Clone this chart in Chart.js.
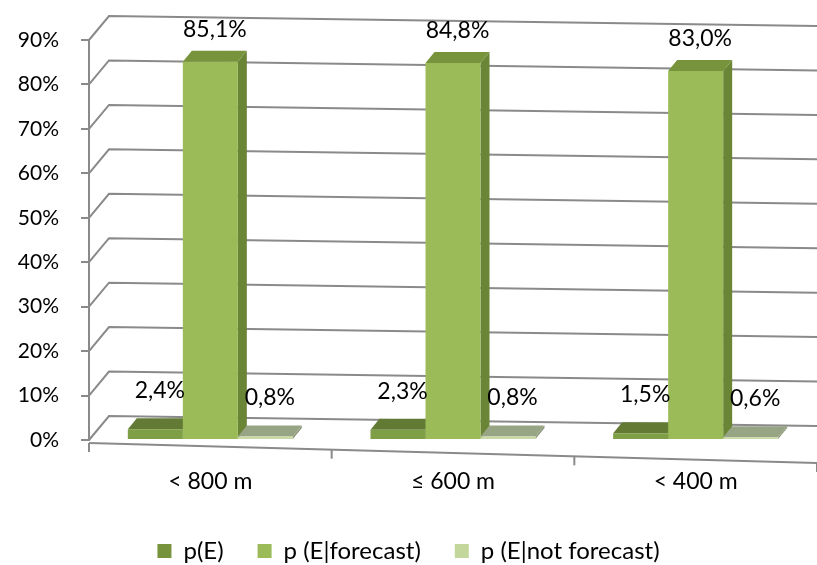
<!DOCTYPE html>
<html>
<head>
<meta charset="utf-8">
<script src="https://cdn.jsdelivr.net/npm/chart.js@4/dist/chart.umd.min.js"></script>
<style>
  html, body { margin: 0; padding: 0; background: #fff; }
  #wrap { width: 817px; height: 565px; }
</style>
</head>
<body>
<div id="wrap"><canvas id="c" width="817" height="565"></canvas></div>
<script>
// data
const categories = ['< 800 m', '≤ 600 m', '< 400 m'];
const pE = [0.024, 0.023, 0.015];
const pForecast = [0.851, 0.848, 0.830];
const pNotForecast = [0.008, 0.008, 0.006];
const yTicks = [0, 0.1, 0.2, 0.3, 0.4, 0.5, 0.6, 0.7, 0.8, 0.9];

const FONT = 'Lato, "Open Sans", sans-serif';
const fmt = v => (v * 100).toFixed(1).replace('.', ',') + '%';

// face colours per dataset: front, top, side
const faces = [
  { front: '#7f9f46', top: '#627a34', side: '#5a7030' },
  { front: '#9bbb59', top: '#77933c', side: '#6b8536' },
  { front: '#c8d9a6', top: '#98a585', side: '#8a9778' }
];
const DX = 9, DY = 11;

// 3D-ish walls, grid and bar depth
const depth3d = {
  id: 'depth3d',
  beforeDatasetsDraw(chart) {
    const { ctx, chartArea: a, scales: { y } } = chart;
    ctx.save();
    ctx.strokeStyle = '#8a8a8a';
    ctx.lineWidth = 2;
    yTicks.forEach(v => {
      const py = y.getPixelForValue(v);
      ctx.beginPath();
      ctx.moveTo(a.left, py);
      ctx.lineTo(a.left + 20, py - 24);
      ctx.lineTo(a.right, py - 24 + 10);
      ctx.stroke();
    });
    // floor front edge
    ctx.beginPath();
    ctx.moveTo(a.left, a.bottom + 3);
    ctx.lineTo(a.right, a.bottom + 23);
    ctx.stroke();
    // category separators
    for (let i = 0; i <= categories.length; i++) {
      const px = a.left + (a.right - a.left) * i / categories.length;
      const fy = a.bottom + 3 + 20 * (px - a.left) / (a.right - a.left);
      ctx.beginPath();
      ctx.moveTo(px, fy);
      ctx.lineTo(px, fy + 9);
      ctx.stroke();
    }
    // bar depth faces
    chart.data.datasets.forEach((ds, di) => {
      const meta = chart.getDatasetMeta(di);
      meta.data.forEach(bar => {
        const l = bar.x - bar.width / 2, r = bar.x + bar.width / 2;
        ctx.fillStyle = faces[di].side;
        ctx.beginPath();
        ctx.moveTo(r, bar.y);
        ctx.lineTo(r + DX, bar.y - DY);
        ctx.lineTo(r + DX, bar.base - DY);
        ctx.lineTo(r, bar.base);
        ctx.closePath();
        ctx.fill();
        ctx.fillStyle = faces[di].top;
        ctx.beginPath();
        ctx.moveTo(l, bar.y);
        ctx.lineTo(l + DX, bar.y - DY);
        ctx.lineTo(r + DX, bar.y - DY);
        ctx.lineTo(r, bar.y);
        ctx.closePath();
        ctx.fill();
      });
    });
    ctx.restore();
  },
  afterDatasetsDraw(chart) {
    const { ctx } = chart;
    ctx.save();
    ctx.font = '23px ' + FONT;
    ctx.fillStyle = '#000';
    ctx.textAlign = 'center';
    ctx.textBaseline = 'bottom';
    chart.data.datasets.forEach((ds, di) => {
      const meta = chart.getDatasetMeta(di);
      meta.data.forEach((bar, i) => {
        const off = di === 1 ? 10 : 16;
        ctx.fillText(fmt(ds.data[i]), bar.x + DX / 2, bar.y - DY - off);
      });
    });
    ctx.restore();
  }
};

new Chart(document.getElementById('c').getContext('2d'), {
  type: 'bar',
  data: {
    labels: categories,
    datasets: [
      { label: 'p(E)', data: pE, backgroundColor: faces[0].front },
      { label: 'p (E|forecast)', data: pForecast, backgroundColor: faces[1].front },
      { label: 'p (E|not forecast)', data: pNotForecast, backgroundColor: faces[2].front }
    ]
  },
  options: {
    responsive: false,
    animation: false,
    layout: { padding: { top: 40, right: 0, left: 0, bottom: 0 } },
    datasets: { bar: { categoryPercentage: 0.68, barPercentage: 1.0 } },
    scales: {
      x: {
        grid: { display: false, drawTicks: false },
        border: { display: false },
        ticks: { color: '#000', font: { family: FONT, size: 23 }, padding: 28 },
        afterFit(s) { s.height = 65; }
      },
      y: {
        min: 0,
        max: 0.9,
        afterBuildTicks(s) { s.ticks = yTicks.map(v => ({ value: v })); },
        grid: { drawOnChartArea: false, color: '#8a8a8a', lineWidth: 2, tickLength: 8 },
        border: { color: '#8a8a8a', width: 2 },
        ticks: {
          color: '#000',
          font: { family: FONT, size: 21 },
          padding: 22,
          callback: v => Math.round(v * 100) + '%'
        },
        afterFit(s) { s.width = 89; }
      }
    },
    plugins: {
      legend: {
        position: 'bottom',
        maxHeight: 60,
        labels: {
          color: '#000',
          font: { family: FONT, size: 24 },
          boxWidth: 14,
          boxHeight: 14,
          padding: 34,
          generateLabels(chart) {
            const cols = ['#77933c', '#9bbb59', '#c3d69b'];
            return chart.data.datasets.map((ds, i) => ({
              text: ds.label, fillStyle: cols[i], strokeStyle: cols[i], lineWidth: 0,
              datasetIndex: i, fontColor: '#000'
            }));
          }
        }
      },
      tooltip: { enabled: false }
    }
  },
  plugins: [depth3d]
});
</script>
</body>
</html>
